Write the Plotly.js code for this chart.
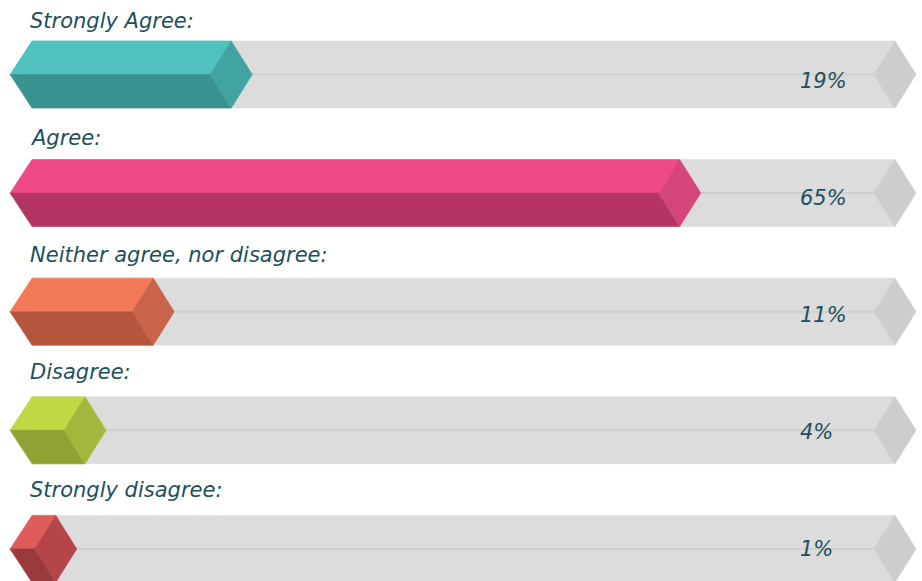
<!DOCTYPE html>
<html>
<head>
<meta charset="utf-8">
<script src="https://cdn.plot.ly/plotly-3.0.1.min.js"></script>
<style>html,body{margin:0;padding:0;background:#fff;}#chart{width:922px;height:581px;}</style>
</head>
<body>
<div id="chart"></div>
<script>
// ---- data ----
const categories = ['Strongly Agree:', 'Agree:', 'Neither agree, nor disagree:', 'Disagree:', 'Strongly disagree:'];
const values = [19, 65, 11, 4, 1];
const valueLabels = ['19%', '65%', '11%', '4%', '1%'];

// ---- styles ----
const topColors    = ['#4fc1be', '#ef4a85', '#f37a59', '#c2d843', '#e05c5a'];
const sideColors   = ['#41a4a3', '#d4467b', '#c9634a', '#a3b73c', '#b44548'];
const bottomColors = ['#3a9290', '#b43563', '#b5573e', '#8fa232', '#9b3a3d'];
const trackColor = '#dcdcdc';
const trackEndColor = '#cdcdcd';
const midlineColor = '#cfcfcf';
const textColor = '#1d4f5b';
const fontFamily = '"DejaVu Sans", "Noto Sans", sans-serif';

// geometry in axis units (x: percent scale, y: row index)
const rowPx = 118.6;
const bevel = 2.154;
const leftTip = -3.69;
const leftCorner = -1.436;
const trackEnd = 87.08;
const halfH = 33.5 / rowPx;

const traces = [];
function poly(xs, ys, color) {
  traces.push({
    type: 'scatter', mode: 'lines', x: xs.concat([xs[0]]), y: ys.concat([ys[0]]),
    fill: 'toself', fillcolor: color, line: {width: 0.6, color: color},
    hoverinfo: 'skip', showlegend: false
  });
}
function line(xs, ys, color, w) {
  traces.push({
    type: 'scatter', mode: 'lines', x: xs, y: ys,
    line: {width: w, color: color}, hoverinfo: 'skip', showlegend: false
  });
}

const annotations = [];
values.forEach((v, i) => {
  const t = i - halfH, b = i + halfH, m = i;
  // track
  poly([leftCorner, trackEnd, trackEnd, leftCorner], [t, t, b, b], trackColor);
  poly([trackEnd, trackEnd + bevel, trackEnd, trackEnd - bevel], [t, m, b, m], trackEndColor);
  line([v + bevel, trackEnd - bevel], [m, m], midlineColor, 2);
  // bar faces
  poly([leftCorner, v, v - bevel, leftTip], [t, t, m, m], topColors[i]);
  poly([leftTip, v - bevel, v, leftCorner], [m, m, b, b], bottomColors[i]);
  poly([v, v + bevel, v, v - bevel], [t, m, b, m], sideColors[i]);
  // labels (text rows are spaced slightly tighter than the bars)
  annotations.push({
    x: -1.85, y: (20.5 + 117.3 * i - 74.5) / rowPx, xref: 'x', yref: 'y', xanchor: 'left', yanchor: 'middle',
    text: '<i>' + categories[i] + '</i>', showarrow: false,
    font: {family: fontFamily, size: 21, color: textColor}
  });
  annotations.push({
    x: 77.13, y: (80.5 + 117.1 * i - 74.5) / rowPx, xref: 'x', yref: 'y', xanchor: 'left', yanchor: 'middle',
    text: '<i>' + valueLabels[i] + '</i>', showarrow: false,
    font: {family: fontFamily, size: 21, color: textColor}
  });
});

const layout = {
  width: 922, height: 581,
  margin: {l: 0, r: 0, t: 0, b: 0, pad: 0},
  paper_bgcolor: '#ffffff', plot_bgcolor: '#ffffff',
  xaxis: {range: [-46 / 9.75, 876 / 9.75], visible: false, fixedrange: true},
  yaxis: {range: [(581 - 74.5) / rowPx, -74.5 / rowPx], visible: false, fixedrange: true},
  annotations: annotations,
  showlegend: false
};

Plotly.newPlot('chart', traces, layout, {displayModeBar: false, staticPlot: true});
</script>
</body>
</html>
